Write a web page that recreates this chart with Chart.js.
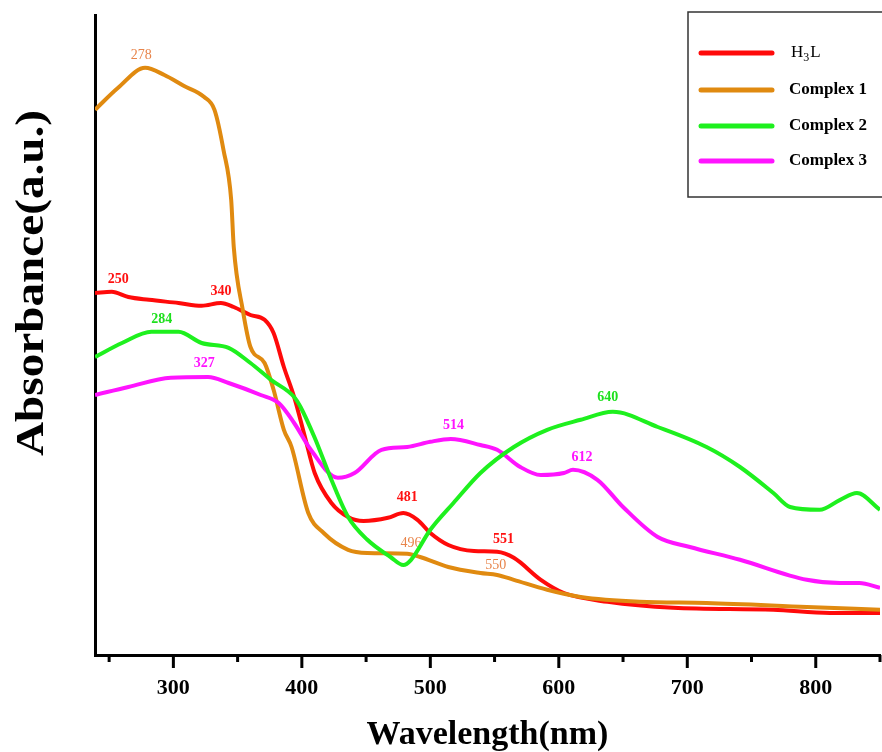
<!DOCTYPE html>
<html>
<head>
<meta charset="utf-8">
<script src="https://cdn.jsdelivr.net/npm/chart.js@4.4.1/dist/chart.umd.min.js"></script>
<style>
  html, body { margin: 0; padding: 0; background: #fff; }
  #wrap { width: 882px; height: 752px; }
</style>
</head>
<body>
<div id="wrap"><canvas id="uvChart" width="882" height="752"></canvas></div>
<script>
// ======= Data =======
const wlH3L = [239, 252, 265, 281, 304, 322, 337, 347, 360, 371, 378, 386, 394, 402, 410, 423, 436, 448, 467, 479, 490, 500, 514, 534, 552, 565, 586, 604, 638, 689, 767, 811, 850];
const absH3L = [0.905, 0.908, 0.895, 0.888, 0.88, 0.873, 0.88, 0.87, 0.85, 0.838, 0.805, 0.72, 0.645, 0.55, 0.455, 0.38, 0.345, 0.335, 0.343, 0.355, 0.338, 0.305, 0.275, 0.26, 0.258, 0.243, 0.188, 0.155, 0.133, 0.118, 0.113, 0.105, 0.105];

const wlC1 = [239, 257, 278, 293, 308, 324, 332, 339, 345, 347, 354, 360, 371, 378, 386, 392, 405, 417, 436, 451, 482, 492, 514, 539, 552, 565, 591, 617, 663, 715, 793, 850];
const absC1 = [1.363, 1.418, 1.468, 1.45, 1.423, 1.395, 1.363, 1.263, 1.138, 1.02, 0.863, 0.77, 0.73, 0.663, 0.563, 0.52, 0.355, 0.305, 0.263, 0.255, 0.253, 0.245, 0.22, 0.205, 0.2, 0.188, 0.163, 0.145, 0.133, 0.13, 0.12, 0.113];

const wlC2 = [239, 260, 283, 304, 322, 343, 360, 376, 394, 399, 410, 423, 436, 451, 469, 479, 485, 500, 518, 539, 565, 591, 617, 642, 677, 715, 741, 767, 780, 803, 819, 832, 850];
const absC2 = [0.745, 0.78, 0.808, 0.808, 0.78, 0.768, 0.73, 0.688, 0.645, 0.62, 0.543, 0.438, 0.345, 0.288, 0.245, 0.225, 0.238, 0.313, 0.38, 0.455, 0.52, 0.563, 0.588, 0.608, 0.57, 0.52, 0.47, 0.405, 0.37, 0.363, 0.388, 0.405, 0.363];

const wlC3 = [239, 265, 298, 327, 343, 368, 382, 394, 407, 428, 441, 462, 482, 500, 516, 539, 552, 570, 586, 604, 611, 630, 650, 677, 702, 741, 793, 819, 834, 850];
const absC3 = [0.65, 0.67, 0.693, 0.695, 0.68, 0.65, 0.63, 0.58, 0.513, 0.443, 0.455, 0.513, 0.52, 0.533, 0.54, 0.525, 0.513, 0.47, 0.45, 0.455, 0.463, 0.438, 0.37, 0.295, 0.27, 0.238, 0.188, 0.18, 0.18, 0.168];

const seriesLabels = ['H\u2083L', 'Complex 1', 'Complex 2', 'Complex 3'];
const seriesColors = ['#ff0a0a', '#e08a10', '#1ef01e', '#ff14ff'];

// peak labels: text, wavelength, absorbance, colour, bold
const peakText = ['278', '250', '340', '284', '327', '514', '640', '612', '481', '496', '551', '550'];
const peakWl = [275, 257, 337, 291, 324, 518, 638, 618, 482, 485, 557, 551];
const peakAbs = [1.5, 0.94, 0.908, 0.84, 0.728, 0.575, 0.643, 0.493, 0.393, 0.28, 0.288, 0.225];
const peakColor = ['#e8844a', '#ff1010', '#ff1010', '#1ee01e', '#ff14ff', '#ff14ff', '#1ee01e', '#ff14ff', '#ff1010', '#e8844a', '#ff1010', '#e8844a'];
const peakBold = [false, true, true, true, true, true, true, true, true, false, true, false];

const xMin = 239, xMax = 850;
const SERIF = '"Liberation Serif", "DejaVu Serif", serif';

const toPoints = (xs, ys) => xs.map((x, i) => ({ x: x, y: ys[i] }));

// ======= Plugins =======
const peakLabels = {
    id: 'peakLabels',
    beforeDatasetsDraw(chart) {
        const { ctx, scales } = chart;
        ctx.save();
        ctx.textAlign = 'center';
        ctx.textBaseline = 'middle';
        peakText.forEach((t, i) => {
            ctx.font = (peakBold[i] ? 'bold ' : '') + '14px ' + SERIF;
            ctx.fillStyle = peakColor[i];
            ctx.fillText(t, scales.x.getPixelForValue(peakWl[i]), scales.y.getPixelForValue(peakAbs[i]));
        });
        ctx.restore();
    }
};

const axisDecor = {
    id: 'axisDecor',
    afterDraw(chart) {
        const { ctx, scales, chartArea } = chart;
        ctx.save();
        // x tick marks, long on the hundreds
        ctx.strokeStyle = '#000';
        ctx.lineWidth = 3;
        scales.x.ticks.forEach(t => {
            const px = scales.x.getPixelForValue(t.value);
            const len = t.value % 100 === 0 ? 13 : 7;
            ctx.beginPath();
            ctx.moveTo(px, chartArea.bottom);
            ctx.lineTo(px, chartArea.bottom + len);
            ctx.stroke();
        });
        // y title, set higher than centre and a bit stretched like the original
        ctx.translate(33, 283);
        ctx.rotate(-Math.PI / 2);
        ctx.scale(1.18, 1);
        ctx.font = 'bold 40px ' + SERIF;
        ctx.fillStyle = '#000';
        ctx.textAlign = 'center';
        ctx.textBaseline = 'middle';
        ctx.fillText('Absorbance(a.u.)', 0, 0);
        ctx.restore();

        // legend box
        ctx.save();
        ctx.strokeStyle = '#333';
        ctx.lineWidth = 1.5;
        ctx.strokeRect(688, 12, 210, 185);
        const rows = [53, 90, 126, 161];
        rows.forEach((ry, i) => {
            ctx.strokeStyle = seriesColors[i];
            ctx.lineWidth = 5;
            ctx.lineCap = 'round';
            ctx.beginPath();
            ctx.moveTo(701, ry);
            ctx.lineTo(772, ry);
            ctx.stroke();
            ctx.fillStyle = '#000';
            ctx.textBaseline = 'middle';
            ctx.textAlign = 'left';
            if (i === 0) {
                ctx.font = '17px ' + SERIF;
                ctx.fillText('H', 791, ry);
                const w = ctx.measureText('H').width;
                ctx.font = '12px ' + SERIF;
                ctx.fillText('3', 791 + w, ry + 5);
                const w2 = ctx.measureText('3').width;
                ctx.font = '17px ' + SERIF;
                ctx.fillText('L', 791 + w + w2 + 1, ry);
            } else {
                ctx.font = 'bold 17px ' + SERIF;
                ctx.fillText(seriesLabels[i], 789, ry);
            }
        });
        ctx.restore();
    }
};

// ======= Chart =======
const ctx = document.getElementById('uvChart').getContext('2d');
new Chart(ctx, {
    type: 'line',
    data: {
        datasets: [
            { label: seriesLabels[2], data: toPoints(wlC2, absC2), borderColor: seriesColors[2], order: 0 },
            { label: seriesLabels[3], data: toPoints(wlC3, absC3), borderColor: seriesColors[3], order: 1 },
            { label: seriesLabels[1], data: toPoints(wlC1, absC1), borderColor: seriesColors[1], order: 2 },
            { label: seriesLabels[0], data: toPoints(wlH3L, absH3L), borderColor: seriesColors[0], order: 3 }
        ]
    },
    options: {
        responsive: false,
        animation: false,
        layout: { padding: { left: 95, right: 2, top: 15, bottom: 0 } },
        elements: {
            line: { borderWidth: 4, cubicInterpolationMode: 'monotone', fill: false },
            point: { radius: 0 }
        },
        plugins: {
            legend: { display: false },
            tooltip: { enabled: false }
        },
        scales: {
            x: {
                type: 'linear',
                min: xMin,
                max: xMax,
                grid: { display: false, drawTicks: false },
                border: { display: true, color: '#000', width: 3 },
                ticks: {
                    stepSize: 50,
                    includeBounds: false,
                    padding: 20,
                    autoSkip: false,
                    maxRotation: 0,
                    color: '#000',
                    font: { family: SERIF, size: 22, weight: 'bold' },
                    callback: v => (v % 100 === 0 ? String(v) : '')
                },
                title: {
                    display: true,
                    text: 'Wavelength(nm)',
                    color: '#000',
                    font: { family: SERIF, size: 34, weight: 'bold' },
                    padding: { top: 6, bottom: -4 }
                },
                afterFit: s => { s.height = 97; s.paddingLeft = 0; s.paddingRight = 0; }
            },
            y: {
                min: 0,
                max: 1.6,
                grid: { display: false, drawTicks: false },
                border: { display: true, color: '#000', width: 3 },
                ticks: { display: false },
                afterFit: s => { s.width = 0; s.paddingTop = 0; s.paddingBottom = 0; }
            }
        }
    },
    plugins: [peakLabels, axisDecor]
});
</script>
</body>
</html>
